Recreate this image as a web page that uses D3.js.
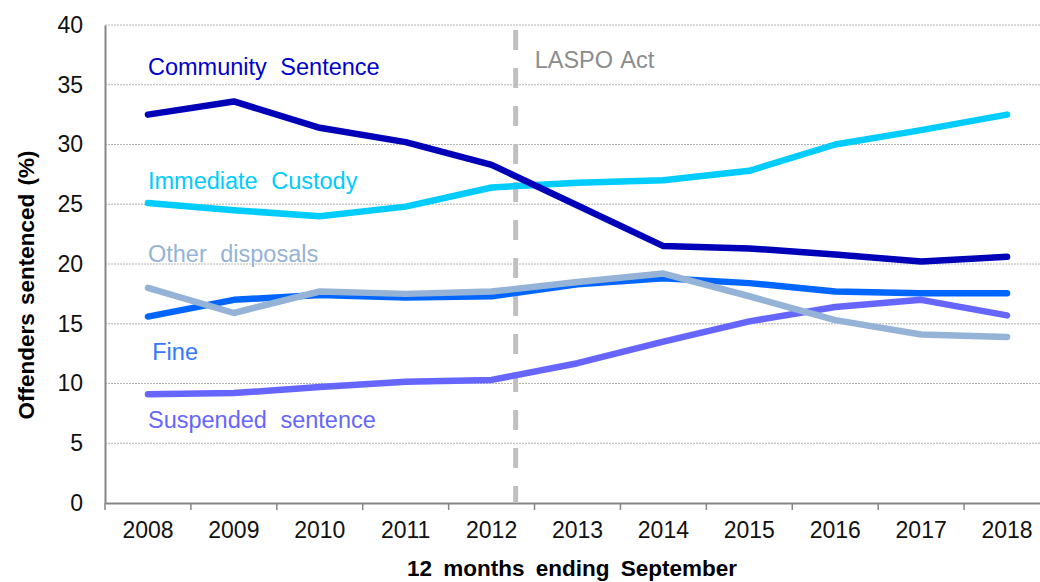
<!DOCTYPE html>
<html><head><meta charset="utf-8">
<script src="https://cdn.jsdelivr.net/npm/d3@7"></script>
<style>
html,body{margin:0;padding:0;background:#fff;}
svg{display:block;font-family:"Liberation Sans",Arial,sans-serif;}
</style></head>
<body><svg id="c" width="1040" height="582"></svg>
<script>
const years = ["2008","2009","2010","2011","2012","2013","2014","2015","2016","2017","2018"];
const community = [32.5,33.6,31.4,30.2,28.3,24.9,21.5,21.3,20.8,20.2,20.6];
const custody   = [25.1,24.5,24.0,24.8,26.4,26.8,27.0,27.8,30.0,31.2,32.5];
const fine      = [15.6,17.0,17.4,17.2,17.3,18.3,18.8,18.4,17.7,17.55,17.55];
const other     = [18.0,15.9,17.7,17.5,17.7,18.5,19.2,17.3,15.3,14.1,13.9];
const suspended = [9.1,9.2,9.7,10.15,10.3,11.7,13.5,15.2,16.4,17.0,15.7];
const yTicks = [0,5,10,15,20,25,30,35,40];
const seriesNames = ["Suspended sentence","Fine","Other disposals","Immediate Custody","Community Sentence"];
const seriesValues = [suspended, fine, other, custody, community];
const seriesColors = ["#6666ff","#0066ff","#95b3d7","#00ccff","#0000b8"];
const labelColors  = ["#6666ff","#3377ff","#95b3d7","#00ccff","#0000cc"];
// label anchors (year index, value) for in-chart series labels
const labelPos = [[0,6.25],[0.05,12.0],[0,20.2],[0,26.25],[0,35.8]];
const laspoLabel = "LASPO Act";
const laspoPos = 4.28; // fractional year index of the dashed line

const svg = d3.select("#c");
const x = d3.scaleBand().domain(years).range([105,1050]).padding(0);
const y = d3.scaleLinear().domain([0,40]).range([503,25]);
const cx = i => x(years[0]) + x.bandwidth()*(i+0.5);

// gridlines
svg.append("g").selectAll("line").data(yTicks.filter(d=>d>0)).join("line")
  .attr("x1",105).attr("x2",1040).attr("y1",d=>y(d)).attr("y2",d=>y(d))
  .attr("stroke","#b4b4b4").attr("stroke-width",1).attr("stroke-dasharray","2,1");

// y axis
const ya = svg.append("g").attr("transform","translate(105,0)")
  .call(d3.axisLeft(y).tickValues(yTicks).tickSize(0).tickPadding(22));
ya.select(".domain").attr("stroke","#868686").attr("stroke-width",2);
ya.selectAll("text").attr("font-size",23).attr("fill","#111").attr("font-family","Liberation Sans, Arial");

// x axis
const xa = svg.append("g").attr("transform","translate(0,503)")
  .call(d3.axisBottom(x).tickSize(0).tickPadding(19));
xa.select(".domain").attr("stroke","#868686").attr("stroke-width",2);
xa.selectAll("text").attr("font-size",23).attr("fill","#111").attr("font-family","Liberation Sans, Arial");
svg.append("g").selectAll("line").data(d3.range(years.length+1)).join("line")
  .attr("x1",i=>105+i*x.bandwidth()).attr("x2",i=>105+i*x.bandwidth())
  .attr("y1",503).attr("y2",510).attr("stroke","#868686").attr("stroke-width",1.5);

// LASPO dashed line
const lx = 105 + x.bandwidth()*(laspoPos+0.5);
svg.append("line").attr("x1",lx).attr("x2",lx).attr("y1",30).attr("y2",503)
  .attr("stroke","#c0c0c0").attr("stroke-width",5).attr("stroke-dasharray","20,18");
svg.append("text").attr("x",lx+19).attr("y",68).text(laspoLabel)
  .attr("font-size",23.5).attr("word-spacing",2).attr("fill","#8c8c8c");

// lines
const line = d3.line().x((d,i)=>cx(i)).y(d=>y(d)).curve(d3.curveLinear);
seriesValues.forEach((vals,k)=>{
  svg.append("path").datum(vals).attr("d",line).attr("fill","none")
    .attr("stroke",seriesColors[k]).attr("stroke-width",6.5)
    .attr("stroke-linecap","round").attr("stroke-linejoin","round");
});

// series labels
seriesNames.forEach((n,k)=>{
  svg.append("text").attr("x",cx(labelPos[k][0])).attr("y",y(labelPos[k][1]))
    .text(n).attr("font-size",23.5).attr("word-spacing",7).attr("fill",labelColors[k]);
});

// axis titles
svg.append("text").attr("x",572).attr("y",576).attr("text-anchor","middle")
  .attr("font-size",22.5).attr("font-weight","bold").attr("word-spacing",5).attr("fill","#000")
  .text("12 months ending September");
svg.append("text").attr("transform","translate(34,285) rotate(-90)").attr("text-anchor","middle")
  .attr("font-size",22.5).attr("font-weight","bold").attr("word-spacing",2).attr("fill","#000")
  .text("Offenders sentenced (%)");
</script></body></html>
